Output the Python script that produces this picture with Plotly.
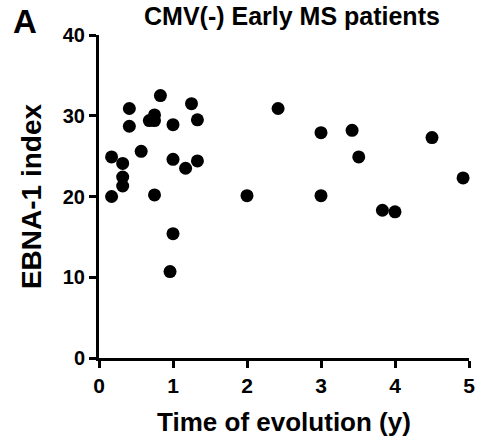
import plotly.graph_objects as go

time_years = [0.17, 0.17, 0.32, 0.32, 0.32, 0.41, 0.41, 0.57, 0.68, 0.75, 0.75, 0.75,
              0.83, 0.96, 1.0, 1.0, 1.0, 1.17, 1.25, 1.33, 1.33, 2.0, 2.42, 3.0, 3.0,
              3.42, 3.51, 3.83, 4.0, 4.5, 4.92]
ebna_index = [24.9, 20.0, 24.1, 22.4, 21.3, 30.9, 28.7, 25.6, 29.4, 30.1, 29.4, 20.2,
              32.5, 10.7, 28.9, 24.6, 15.4, 23.5, 31.5, 29.5, 24.4, 20.1, 30.9, 27.9, 20.1,
              28.2, 24.9, 18.3, 18.1, 27.3, 22.3]
x_ticks = [0, 1, 2, 3, 4, 5]
y_ticks = [0, 10, 20, 30, 40]

FONT = "Arial, 'Liberation Sans', sans-serif"

fig = go.Figure()
fig.add_trace(go.Scatter(
    x=time_years, y=ebna_index, mode="markers",
    marker=dict(color="black", size=13, line=dict(width=0)),
    showlegend=False, cliponaxis=False,
))

fig.update_layout(
    width=484, height=441,
    margin=dict(l=99, r=9, t=35, b=81),
    paper_bgcolor="white", plot_bgcolor="white",
    font=dict(family=FONT, color="black"),
    xaxis=dict(
        range=[0, 5], tickvals=x_ticks, ticks="outside", ticklen=7, tickwidth=3,
        tickcolor="black", showline=True, linewidth=3, linecolor="black",
        showgrid=False, zeroline=False,
        tickfont=dict(family=FONT, size=21, color="black", weight="bold"),
        title=dict(text="Time of evolution (y)", standoff=17,
                   font=dict(family=FONT, size=26, color="black", weight="bold")),
    ),
    yaxis=dict(
        range=[0, 40], tickvals=y_ticks, ticks="outside", ticklen=7, tickwidth=3,
        tickcolor="black", showline=True, linewidth=3, linecolor="black",
        showgrid=False, zeroline=False,
        tickfont=dict(family=FONT, size=20, color="black", weight="bold"),
        title=dict(text="EBNA-1 index", standoff=13,
                   font=dict(family=FONT, size=28, color="black", weight="bold")),
    ),
    annotations=[
        dict(text="CMV(-) Early MS patients", xref="paper", yref="paper",
             x=0.522, y=1.058, xanchor="center", yanchor="middle", showarrow=False,
             font=dict(family=FONT, size=25, color="black", weight="bold")),
        dict(text="A", xref="paper", yref="paper",
             x=-0.2, y=1.043, xanchor="center", yanchor="middle", showarrow=False,
             font=dict(family=FONT, size=33, color="black", weight="bold")),
    ],
)

fig.write_html("out.html")
